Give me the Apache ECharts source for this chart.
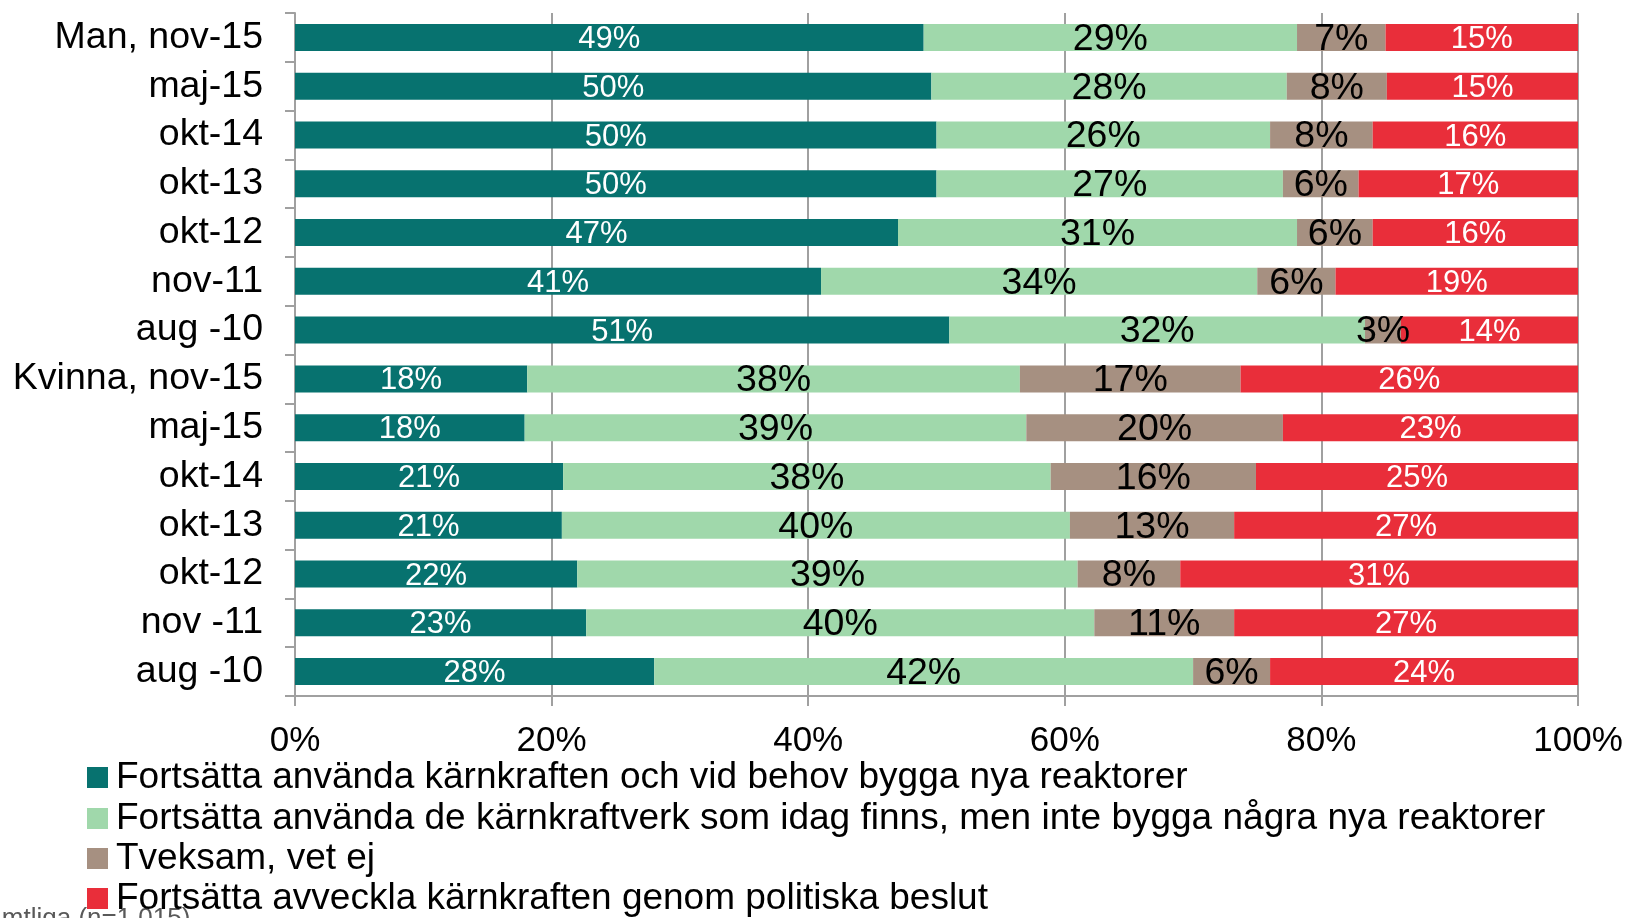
<!DOCTYPE html>
<html>
<head>
<meta charset="utf-8">
<script src="https://cdn.jsdelivr.net/npm/echarts@6/dist/echarts.min.js"></script>
<style>
html,body{margin:0;padding:0;background:#fff;}
#chart{width:1627px;height:918px;}
</style>
</head>
<body>
<div id="chart"></div>
<script>
const categories = ["Man, nov-15","maj-15","okt-14","okt-13","okt-12","nov-11","aug -10",
  "Kvinna, nov-15","maj-15 ","okt-14 ","okt-13 ","okt-12 ","nov -11","aug -10 "];
const seriesNames = [
  "Fortsätta använda kärnkraften och vid behov bygga nya reaktorer",
  "Fortsätta använda de kärnkraftverk som idag finns, men inte bygga några nya reaktorer",
  "Tveksam, vet ej",
  "Fortsätta avveckla kärnkraften genom politiska beslut"
];
const bygga   = [49.0, 49.6, 50.0, 50.0, 47.0, 41.0, 51.0, 18.1, 17.9, 20.9, 20.8, 22.0, 22.7, 28.0];
const behalla = [29.1, 27.7, 26.0, 27.0, 31.1, 34.0, 32.4, 38.4, 39.1, 38.0, 39.6, 39.0, 39.6, 42.0];
const tveksam = [ 6.9,  7.8,  8.0,  5.9,  5.9,  6.1,  2.8, 17.2, 20.0, 16.0, 12.8,  8.0, 10.9,  6.0];
const avveckla= [15.0, 14.9, 16.0, 17.1, 16.0, 18.9, 13.8, 26.3, 23.0, 25.1, 26.8, 31.0, 26.8, 24.0];
const xTicks = [0, 20, 40, 60, 80, 100];
const footnote = "Samtliga (n=1 015)";

const colors = ["#07726F", "#A0D8AB", "#A69081", "#E92E3A"];
const labelColors = ["#ffffff", "#000000", "#000000", "#ffffff"];
const labelSizes = [31, 37.5, 37.5, 31];
const FONT = "Liberation Sans, Arial, sans-serif";
const legendTops = [754, 795, 835, 875];

const dataSets = [bygga, behalla, tveksam, avveckla];
const chart = echarts.init(document.getElementById('chart'));
chart.setOption({
  animation: false,
  backgroundColor: '#ffffff',
  color: colors,
  grid: { left: 295, right: 49, top: 13, bottom: 222, containLabel: false },
  xAxis: {
    type: 'value', min: xTicks[0], max: xTicks[xTicks.length-1], interval: 20,
    axisLine: { show: true, lineStyle: { color: '#A0A0A0', width: 2 } },
    axisTick: { show: true, length: 10, lineStyle: { color: '#A0A0A0', width: 2 } },
    splitLine: { show: true, lineStyle: { color: '#A0A0A0', width: 2 } },
    axisLabel: { formatter: v => v + '%', color: '#000', fontSize: 35, fontFamily: FONT, margin: 28 }
  },
  yAxis: {
    type: 'category', data: categories, inverse: true,
    axisLine: { show: true, lineStyle: { color: '#A0A0A0', width: 2 } },
    axisTick: { show: true, length: 10, lineStyle: { color: '#A0A0A0', width: 2 } },
    axisLabel: { interval: 0, color: '#000', fontSize: 37.5, fontFamily: FONT, margin: 32, padding: [4,0,0,0], formatter: v => v.trim() }
  },
  legend: seriesNames.map((n, i) => ({
    orient: 'vertical', left: 82, top: legendTops[i],
    icon: 'rect', itemWidth: 21, itemHeight: 21, itemGap: 0,
    selectedMode: false,
    textStyle: { color: '#000', fontSize: 37, fontFamily: FONT, padding: [0,0,0,3] },
    data: [n]
  })),
  graphic: [{
    type: 'text', left: -30, top: 906, z: -1,
    style: { text: footnote, fill: '#595959', font: '26px ' + FONT }
  }],
  series: dataSets.map((d, i) => ({
    name: seriesNames[i], type: 'bar', stack: 'total', barWidth: 27,
    data: d,
    itemStyle: { color: colors[i] },
    label: {
      show: true, position: 'inside', color: labelColors[i],
      fontSize: labelSizes[i], fontFamily: FONT, offset: [0, 2],
      formatter: p => Math.round(p.value) + '%'
    }
  }))
});
</script>
</body>
</html>
